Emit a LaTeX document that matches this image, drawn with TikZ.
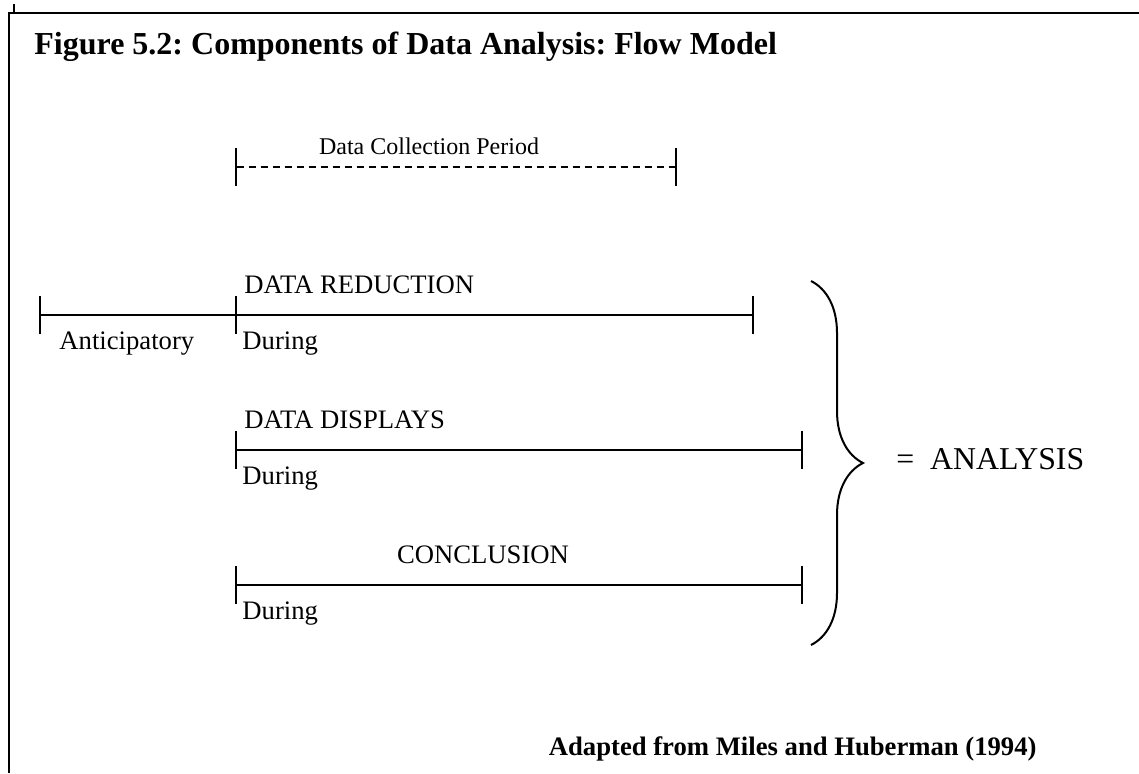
\documentclass[tikz,border=0pt]{standalone}
\usepackage{fontspec}
\setmainfont{Liberation Serif}
\usetikzlibrary{arrows.meta,decorations.pathreplacing,positioning}
\frenchspacing

\tikzset{
  tick/.tip={Bar[width=17pt,line width=0.9pt]},
  span/.style={line width=0.9pt, tick-tick},
  lbl/.style={inner sep=0pt, font=\fontsize{12}{14}\selectfont},
}

\begin{document}
\begin{tikzpicture}[x=0.45pt, y=-0.45pt]
\useasboundingbox (0,0) rectangle (1139,773);

% frame
\draw[line width=0.9pt] (9,773) -- (9,13) -- (1139,13);
\draw[line width=0.6pt] (14,4) -- (14,13);

% title
\node[anchor=base west, inner sep=0pt, font=\bfseries\fontsize{14.4}{17}\selectfont] (title) at (34,54) {Figure 5.2: Components of Data Analysis: Flow Model};

% data collection period
\coordinate (dcA) at (235,167);
\coordinate (dcB) at (677,167);
\draw[span, line width=0.7pt, dash pattern=on 3.2pt off 2.2pt] (dcA) -- (dcB);
\node[lbl, font=\fontsize{10.8}{13}\selectfont, anchor=base] (dcp) at (429,154) {Data Collection Period};

% data reduction
\coordinate (antA) at (39,315);
\coordinate (redA) at (235,315);
\coordinate (redB) at (754,315);
\draw[line width=0.9pt, tick-] (antA) -- (redA);
\draw[span] (redA) -- (redB);
\node[lbl, anchor=base west] (red) at (244,293) {DATA REDUCTION};
\node[lbl, anchor=base west] (ant) at (59,349) {Anticipatory};
\node[lbl, anchor=base west] (dur1) at (242,349) {During};

% data displays
\coordinate (disA) at (235,450);
\coordinate (disB) at (803,450);
\draw[span] (disA) -- (disB);
\node[lbl, anchor=base west] (dis) at (244,428) {DATA DISPLAYS};
\node[lbl, anchor=base west] (dur2) at (242,484) {During};

% conclusion
\coordinate (conA) at (235,585);
\coordinate (conB) at (803,585);
\draw[span] (conA) -- (conB);
\node[lbl, anchor=base] (con) at (483,563) {CONCLUSION};
\node[lbl, anchor=base west] (dur3) at (242,619) {During};

% brace
\coordinate (brTop) at (811,281);
\coordinate (brBot) at (811,645);
\draw[line width=0.9pt, decorate, decoration={brace, amplitude=23.4pt}] (brTop) -- (brBot);
\node[lbl, font=\fontsize{14.3}{17}\selectfont, anchor=base west] (ana) at (896,469) {=\ \ ANALYSIS};

% source
\node[lbl, font=\bfseries\fontsize{12}{14}\selectfont, anchor=base east] (src) at (1037,755) {Adapted from Miles and Huberman (1994)};
\end{tikzpicture}
\end{document}
